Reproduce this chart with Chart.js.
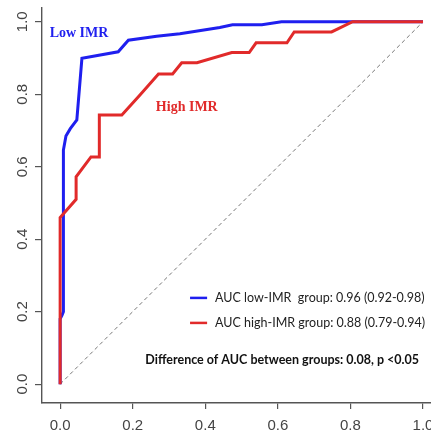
<!DOCTYPE html>
<html>
<head>
<meta charset="utf-8">
<script src="https://cdn.jsdelivr.net/npm/chart.js@4.4.1/dist/chart.umd.min.js"></script>
<style>
  html, body { margin: 0; padding: 0; background: #fff; }
</style>
</head>
<body>
<canvas id="roc" width="431" height="433"></canvas>
<script>
// ROC curves, low vs high IMR groups (1 - specificity on x, sensitivity on y)
const tickValues = [0, 0.2, 0.4, 0.6, 0.8, 1.0];

const lowImrFpr = [0, 0, 0.005, 0.009, 0.009, 0.016, 0.028, 0.046, 0.06, 0.16, 0.188, 0.266, 0.33, 0.44, 0.475, 0.556, 0.61, 1.0];
const lowImrTpr = [0, 0.18, 0.19, 0.2, 0.646, 0.685, 0.705, 0.729, 0.899, 0.917, 0.949, 0.96, 0.967, 0.984, 0.992, 0.992, 1.0, 1.0];

const highImrFpr = [0, 0, 0.044, 0.044, 0.085, 0.108, 0.108, 0.17, 0.22, 0.271, 0.31, 0.335, 0.377, 0.473, 0.521, 0.54, 0.625, 0.645, 0.748, 0.806, 1.0];
const highImrTpr = [0, 0.46, 0.51, 0.572, 0.627, 0.627, 0.743, 0.743, 0.798, 0.856, 0.856, 0.887, 0.887, 0.915, 0.915, 0.942, 0.942, 0.972, 0.972, 1.0, 1.0];

const chanceLine = [0, 1];

const BLUE = '#1f1fef';
const RED = '#e12a2a';
const AXIS = '#555';

function toPoints(xs, ys) {
  return xs.map((v, i) => ({ x: v, y: ys[i] }));
}

// Curve labels, legend and the AUC note, placed in data units
const annotate = {
  id: 'annotate',
  afterDatasetsDraw(chart) {
    const { ctx, scales: { x, y } } = chart;
    ctx.save();
    ctx.textBaseline = 'middle';

    ctx.font = 'bold 14px "Liberation Serif", "Times New Roman", serif';
    ctx.textAlign = 'center';
    ctx.fillStyle = BLUE;
    ctx.fillText('Low IMR', x.getPixelForValue(0.052), y.getPixelForValue(0.969));
    ctx.fillStyle = RED;
    ctx.fillText('High IMR', x.getPixelForValue(0.349), y.getPixelForValue(0.765));

    const legend = [
      { color: BLUE, text: 'AUC low-IMR  group: 0.96 (0.92-0.98)', at: 0.238 },
      { color: RED, text: 'AUC high-IMR group: 0.88 (0.79-0.94)', at: 0.169 },
    ];
    ctx.font = '12.5px Lato, "Open Sans", sans-serif';
    ctx.textAlign = 'left';
    legend.forEach((item) => {
      const py = y.getPixelForValue(item.at);
      ctx.strokeStyle = item.color;
      ctx.lineWidth = 2.5;
      ctx.beginPath();
      ctx.moveTo(x.getPixelForValue(0.358), py);
      ctx.lineTo(x.getPixelForValue(0.405), py);
      ctx.stroke();
      ctx.fillStyle = '#222';
      ctx.fillText(item.text, x.getPixelForValue(0.427), py);
    });

    ctx.font = 'bold 12.5px Lato, "Open Sans", sans-serif';
    ctx.textAlign = 'center';
    ctx.fillStyle = '#111';
    ctx.fillText('Difference of AUC between groups: 0.08, p <0.05', x.getPixelForValue(0.612), y.getPixelForValue(0.066));
    ctx.restore();
  },
};

const tickFont = { family: '"Liberation Sans", Arial, sans-serif', size: 15 };

new Chart(document.getElementById('roc'), {
  type: 'scatter',
  data: {
    datasets: [
      {
        label: 'High IMR',
        data: toPoints(highImrFpr, highImrTpr),
        showLine: true,
        borderColor: RED,
        borderWidth: 3,
        pointRadius: 0,
        order: 0,
      },
      {
        label: 'Low IMR',
        data: toPoints(lowImrFpr, lowImrTpr),
        showLine: true,
        borderColor: BLUE,
        borderWidth: 3,
        pointRadius: 0,
        order: 1,
      },
      {
        label: 'Chance',
        data: toPoints(chanceLine, chanceLine),
        showLine: true,
        borderColor: '#777',
        borderWidth: 1,
        borderDash: [4, 3],
        pointRadius: 0,
        order: 2,
      },
    ],
  },
  options: {
    responsive: false,
    animation: false,
    layout: { padding: { top: 8, right: 0, left: 0, bottom: 0 } },
    plugins: { legend: { display: false }, tooltip: { enabled: false } },
    scales: {
      x: {
        type: 'linear',
        min: -0.05,
        max: 1.022,
        afterBuildTicks: (scale) => { scale.ticks = tickValues.map((v) => ({ value: v })); },
        afterFit: (scale) => {
          scale.height = 30;
          scale.paddingLeft = 0;
          scale.paddingRight = 0;
        },
        grid: { drawOnChartArea: false, tickLength: 6, color: AXIS, lineWidth: 1.2 },
        border: { display: true, color: AXIS, width: 1.4 },
        ticks: {
          color: '#444',
          font: tickFont,
          padding: 8,
          maxRotation: 0,
          callback: (v) => Number(v).toFixed(1),
        },
      },
      y: {
        type: 'linear',
        min: -0.052,
        max: 1.038,
        afterBuildTicks: (scale) => { scale.ticks = tickValues.map((v) => ({ value: v })); },
        afterFit: (scale) => {
          scale.width = 42;
          scale.paddingTop = 0;
          scale.paddingBottom = 0;
        },
        grid: { drawOnChartArea: false, tickLength: 7, color: AXIS, lineWidth: 1.2 },
        border: { display: true, color: AXIS, width: 1.4 },
        ticks: {
          color: '#444',
          font: tickFont,
          padding: 2,
          minRotation: 90,
          maxRotation: 90,
          crossAlign: 'center',
          callback: (v) => Number(v).toFixed(1),
        },
      },
    },
  },
  plugins: [annotate],
});
</script>
</body>
</html>
